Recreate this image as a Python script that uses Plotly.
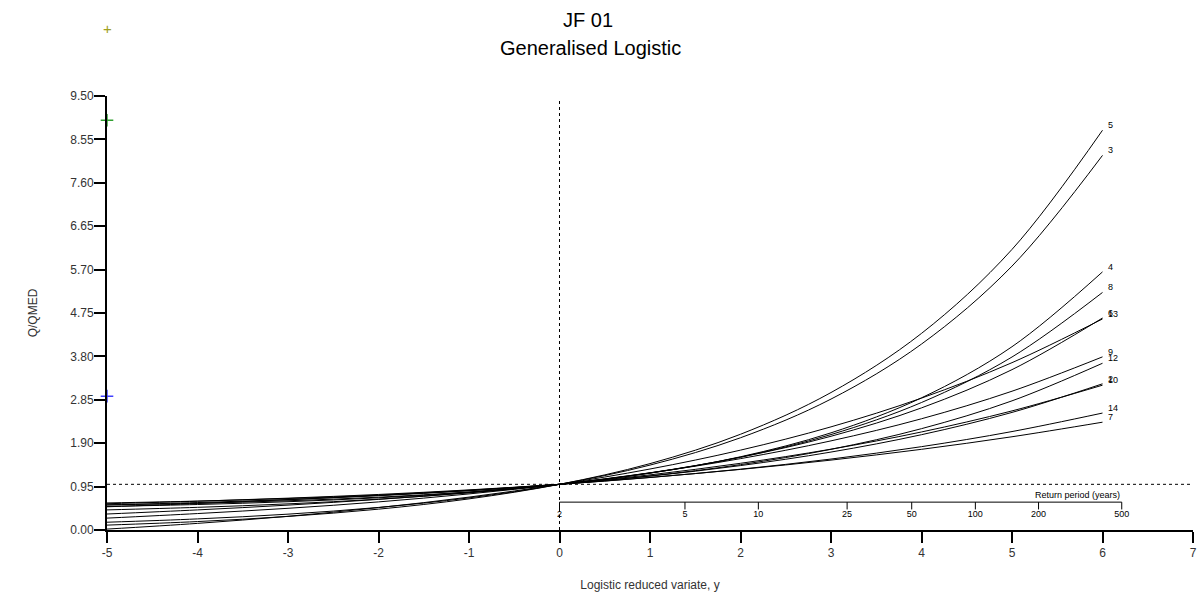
import numpy as np
import plotly.graph_objects as go

# Logistic reduced variate sample points
y_var = [-5, -4, -3, -2, -1, 0, 1, 2, 3, 4, 5, 6]

# Growth curves (Q/QMED), one list per site label
curve_5 = [0.107, 0.185, 0.297, 0.456, 0.681, 1.0, 1.453, 2.096, 3.009, 4.304, 6.142, 8.75]
curve_3 = [0.170, 0.243, 0.347, 0.494, 0.703, 1.0, 1.421, 2.019, 2.866, 4.070, 5.777, 8.20]
curve_4 = [0.549, 0.586, 0.640, 0.718, 0.833, 1.0, 1.245, 1.603, 2.127, 2.893, 4.012, 5.65]
curve_8 = [0.516, 0.558, 0.619, 0.705, 0.827, 1.0, 1.246, 1.594, 2.089, 2.791, 3.787, 5.20]
curve_6 = [0.440, 0.496, 0.572, 0.675, 0.813, 1.0, 1.252, 1.593, 2.052, 2.673, 3.510, 4.64]
curve_13 = [0.020, 0.145, 0.300, 0.490, 0.720, 1.0, 1.335, 1.748, 2.258, 2.887, 3.663, 4.62]
curve_9 = [0.260, 0.360, 0.475, 0.615, 0.790, 1.0, 1.250, 1.562, 1.951, 2.435, 3.038, 3.79]
curve_12 = [0.592, 0.633, 0.689, 0.763, 0.864, 1.0, 1.184, 1.431, 1.766, 2.218, 2.827, 3.65]
curve_2 = [0.549, 0.601, 0.667, 0.751, 0.860, 1.0, 1.179, 1.410, 1.706, 2.086, 2.574, 3.20]
curve_10 = [0.350, 0.440, 0.545, 0.670, 0.820, 1.0, 1.207, 1.460, 1.769, 2.146, 2.607, 3.17]
curve_14 = [0.575, 0.630, 0.697, 0.778, 0.878, 1.0, 1.149, 1.331, 1.553, 1.824, 2.155, 2.56]
curve_7 = [0.508, 0.580, 0.662, 0.758, 0.870, 1.0, 1.151, 1.326, 1.530, 1.766, 2.041, 2.36]

curve_names = ["5", "3", "4", "8", "6", "13", "9", "12", "2", "10", "14", "7"]
curves = [curve_5, curve_3, curve_4, curve_8, curve_6, curve_13,
          curve_9, curve_12, curve_2, curve_10, curve_14, curve_7]

# Return period axis
return_periods = [2, 5, 10, 25, 50, 100, 200, 500]
rp_labels = ["2", "5", "10", "25", "50", "100", "200", "500"]
rp_axis_level = 0.61

# Axis ticks
y_ticks = [0.00, 0.95, 1.90, 2.85, 3.80, 4.75, 5.70, 6.65, 7.60, 8.55, 9.50]
x_ticks = [-5, -4, -3, -2, -1, 0, 1, 2, 3, 4, 5, 6, 7]
x_tick_text = ["-5", "-4", "-3", "-2", "-1", "0", "1", "2", "3", "4", "5", "6", "7"]
y_max = 9.5

# Marker points near the y axis
marker_x = [-5, -5]
marker_y = [8.97, 2.93]
marker_colors = ["#30a030", "#4040ff"]
top_marker_y = 10.98
top_marker_color = "#a0a020"

NARROW = "Liberation Sans Narrow, Arial Narrow, Liberation Sans"

fig = go.Figure()

for name, vals in zip(curve_names, curves):
    fig.add_trace(go.Scatter(x=y_var, y=vals, mode="lines",
                             line=dict(color="black", width=1, shape="spline"),
                             name=name, showlegend=False, hoverinfo="skip"))

# reference dashed lines
fig.add_trace(go.Scatter(x=[-5, 7], y=[1.0, 1.0], mode="lines",
                         line=dict(color="black", width=1, dash="3px,3px"),
                         showlegend=False, hoverinfo="skip"))
fig.add_trace(go.Scatter(x=[0, 0], y=[0, 9.42], mode="lines",
                         line=dict(color="black", width=1, dash="3px,3px"),
                         showlegend=False, hoverinfo="skip"))

# return period axis
rp_x = [float(np.log(t - 1)) for t in return_periods]
tx, ty = [], []
for xv in rp_x:
    tx += [xv, xv, None]
    ty += [rp_axis_level, rp_axis_level - 0.16, None]
fig.add_trace(go.Scatter(x=[rp_x[0], rp_x[-1]], y=[rp_axis_level, rp_axis_level],
                         mode="lines", line=dict(color="black", width=1),
                         showlegend=False, hoverinfo="skip"))
fig.add_trace(go.Scatter(x=tx, y=ty, mode="lines",
                         line=dict(color="black", width=1),
                         showlegend=False, hoverinfo="skip"))
fig.add_trace(go.Scatter(x=rp_x, y=[rp_axis_level - 0.28] * len(rp_x), mode="text",
                         text=rp_labels, textposition="middle center",
                         textfont=dict(size=9, color="black", family=NARROW),
                         showlegend=False, hoverinfo="skip"))
fig.add_annotation(x=rp_x[-1], y=rp_axis_level, text="Return period (years)",
                   xanchor="right", yanchor="bottom", showarrow=False,
                   font=dict(size=9, color="black", family=NARROW))

# curve end labels
for name, vals in zip(curve_names, curves):
    fig.add_annotation(x=y_var[-1], y=vals[-1], text=name, xanchor="left",
                       yanchor="middle", showarrow=False, xshift=3, yshift=5,
                       font=dict(size=9, color="black", family=NARROW))

# small markers at the y axis
fig.add_trace(go.Scatter(x=marker_x, y=marker_y, mode="markers",
                         marker=dict(symbol="cross-thin", size=9,
                                     line=dict(color=marker_colors, width=1.5)),
                         cliponaxis=False, showlegend=False, hoverinfo="skip"))
# marker above the plotting area (outside axis range)
fig.add_annotation(x=-5, y=top_marker_y / y_max, yref="paper", text="+",
                   showarrow=False, xanchor="center", yanchor="middle",
                   font=dict(size=15, color=top_marker_color, family="Liberation Sans"))

# titles
fig.add_annotation(x=0.443, y=1.175, xref="paper", yref="paper", text="JF 01",
                   showarrow=False, xanchor="center", yanchor="middle",
                   font=dict(size=20, color="black", family="Liberation Sans, Arial"))
fig.add_annotation(x=0.445, y=1.111, xref="paper", yref="paper",
                   text="Generalised Logistic", showarrow=False,
                   xanchor="center", yanchor="middle",
                   font=dict(size=20, color="black", family="Liberation Sans, Arial"))

fig.update_layout(
    width=1203, height=603,
    margin=dict(l=107, r=6, t=96, b=73),
    paper_bgcolor="white", plot_bgcolor="white",
    font=dict(family="Liberation Sans, Arial, sans-serif", color="#333333"),
    xaxis=dict(range=[-5, 7], tickvals=x_ticks, ticktext=x_tick_text,
               ticks="outside", ticklen=11, tickwidth=2, tickcolor="black",
               showline=True, linecolor="black", linewidth=2, showgrid=False,
               zeroline=False, tickfont=dict(size=12, color="#333333"),
               title=dict(text="Logistic reduced variate, y", standoff=21,
                          font=dict(size=12, color="#333333"))),
    yaxis=dict(range=[0, y_max], tickvals=y_ticks, tickformat=".2f",
               ticks="outside", ticklen=11, tickwidth=2, tickcolor="black",
               showline=True, linecolor="black", linewidth=2, showgrid=False,
               zeroline=False, tickfont=dict(size=12, color="#333333"),
               ticklabelstandoff=-2,
               title=dict(text="Q/QMED", standoff=30,
                          font=dict(size=12, color="#333333"))),
)

fig.write_html("out.html", config={"displayModeBar": False},
               post_script="document.body.style.margin='0';")
